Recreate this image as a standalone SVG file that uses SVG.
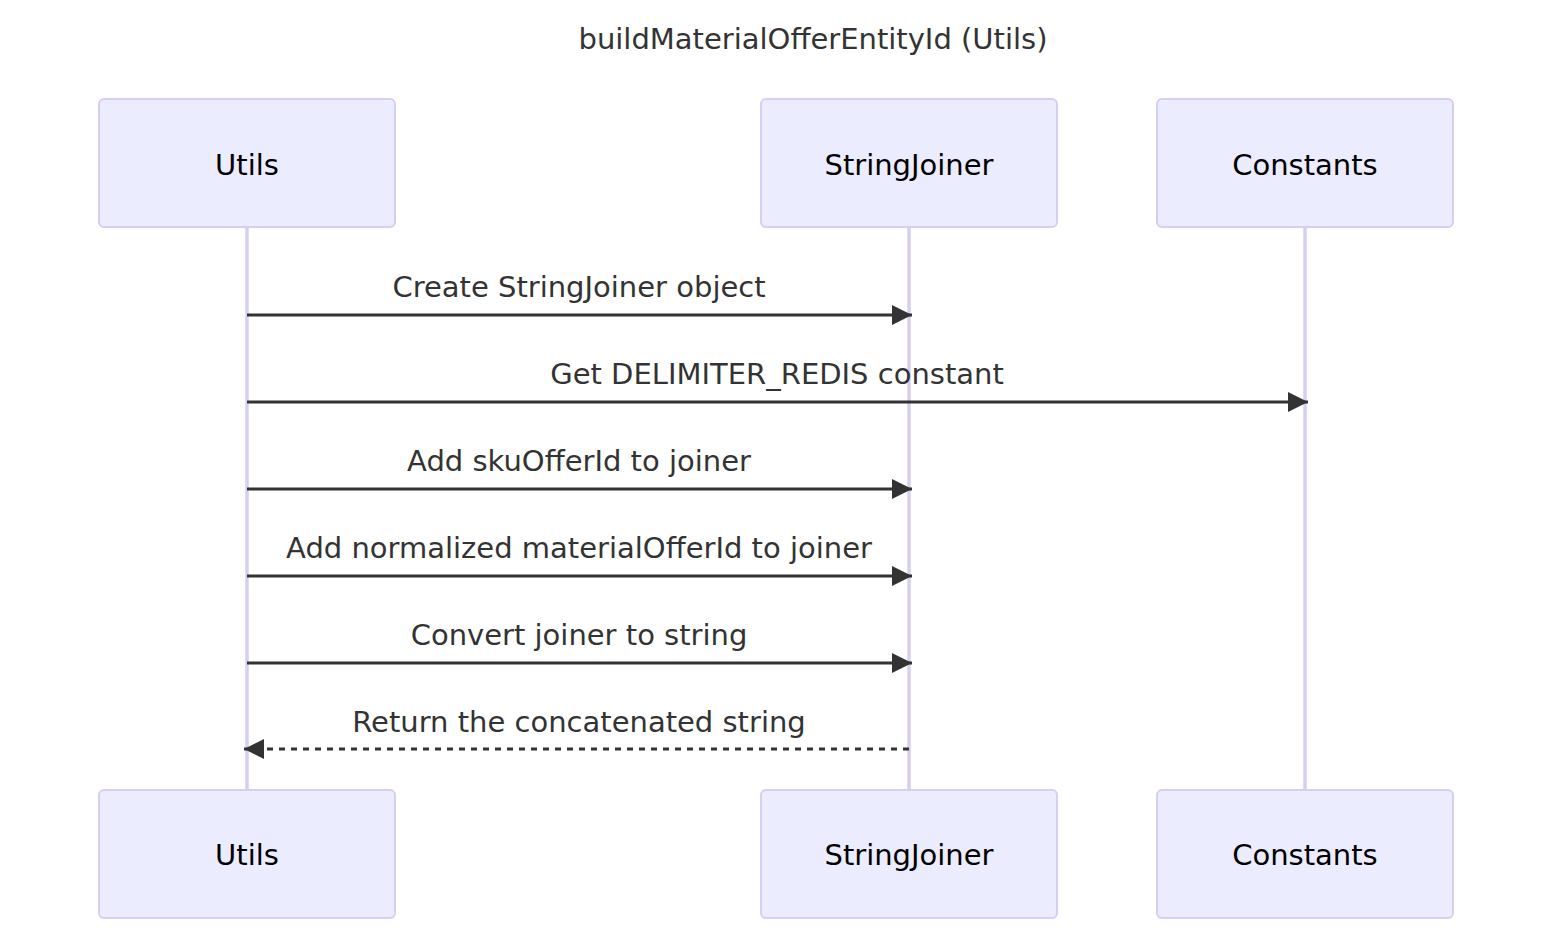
<svg xmlns="http://www.w3.org/2000/svg" width="1568" height="950" viewBox="0 0 1568 950">
<style>
.actor{fill:#ECECFF;stroke:#D8CDF2;stroke-width:2}
.atext{font-family:"DejaVu Sans",sans-serif;font-size:29px;fill:#000;text-anchor:middle}
.life{stroke:#D8CDF2;stroke-width:3.5}
.msg{stroke:#333;stroke-width:3;fill:none}
.dash{stroke-dasharray:6,6}
.mtext{font-family:"DejaVu Sans",sans-serif;font-size:29px;fill:#333;text-anchor:middle}
.title{font-family:"DejaVu Sans",sans-serif;font-size:29px;fill:#333;text-anchor:middle}
</style>
<defs>
<marker id="ah" markerUnits="userSpaceOnUse" markerWidth="20" markerHeight="20" refX="20" refY="10" orient="auto">
<path d="M0,0 L20,10 L0,20 z" fill="#333"/>
</marker>
</defs>
<rect width="1568" height="950" fill="#fff"/>
<text class="title" x="813" y="49">buildMaterialOfferEntityId (Utils)</text>
<g id="lifelines">
<line class="life" x1="247" y1="227" x2="247" y2="790"/>
<line class="life" x1="909" y1="227" x2="909" y2="790"/>
<line class="life" x1="1305" y1="227" x2="1305" y2="790"/>
</g>
<g id="Utils">
<rect class="actor" x="99" y="99" width="296" height="128" rx="5"/>
<text class="atext" x="247" y="175">Utils</text>
<rect class="actor" x="99" y="790" width="296" height="128" rx="5"/>
<text class="atext" x="247" y="865">Utils</text>
</g>
<g id="StringJoiner">
<rect class="actor" x="761" y="99" width="296" height="128" rx="5"/>
<text class="atext" x="909" y="175">StringJoiner</text>
<rect class="actor" x="761" y="790" width="296" height="128" rx="5"/>
<text class="atext" x="909" y="865">StringJoiner</text>
</g>
<g id="Constants">
<rect class="actor" x="1157" y="99" width="296" height="128" rx="5"/>
<text class="atext" x="1305" y="175">Constants</text>
<rect class="actor" x="1157" y="790" width="296" height="128" rx="5"/>
<text class="atext" x="1305" y="865">Constants</text>
</g>
<g id="connectors">
<line class="msg" x1="247" y1="315" x2="912" y2="315" marker-end="url(#ah)"/>
<text class="mtext" x="579" y="297">Create StringJoiner object</text>
<line class="msg" x1="247" y1="402" x2="1308" y2="402" marker-end="url(#ah)"/>
<text class="mtext" x="777" y="384">Get DELIMITER_REDIS constant</text>
<line class="msg" x1="247" y1="489" x2="912" y2="489" marker-end="url(#ah)"/>
<text class="mtext" x="579" y="471">Add skuOfferId to joiner</text>
<line class="msg" x1="247" y1="576" x2="912" y2="576" marker-end="url(#ah)"/>
<text class="mtext" x="579" y="558">Add normalized materialOfferId to joiner</text>
<line class="msg" x1="247" y1="663" x2="912" y2="663" marker-end="url(#ah)"/>
<text class="mtext" x="579" y="645">Convert joiner to string</text>
<line class="msg dash" x1="909" y1="749" x2="244" y2="749" marker-end="url(#ah)"/>
<text class="mtext" x="579" y="732">Return the concatenated string</text>
</g>
</svg>
